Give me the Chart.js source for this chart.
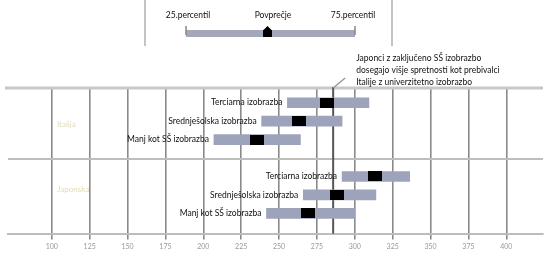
<!DOCTYPE html>
<html><head><meta charset="utf-8">
<script src="https://cdn.jsdelivr.net/npm/chart.js@4"></script>
<style>html,body{margin:0;padding:0;background:#fff}#wrap{width:549px;height:256px;position:relative}</style>
</head><body><div id="wrap"><canvas id="c" width="549" height="256"></canvas></div>
<script>
// ---- data ----
const xTickValues = [100, 125, 150, 175, 200, 225, 250, 275, 300, 325, 350, 375, 400];
const countries = ['Italija', 'Japonska'];
const educationLevels = ['Terciarna izobrazba', 'Srednješolska izobrazba', 'Manj kot SŠ izobrazba'];
const italyP25  = [255.5, 238.5, 207.0];
const italyP75  = [309.3, 291.6, 264.1];
const italyMean = [281.8, 263.4, 235.2];
const japanP25  = [291.6, 266.0, 241.7];
const japanP75  = [336.2, 313.9, 300.1];
const japanMean = [313.3, 288.3, 269.3];
const referenceValue = 285.7;
const annotationLines = ['Japonci z zaključeno SŠ izobrazbo', 'dosegajo višje spretnosti kot prebivalci', 'Italije z univerzitetno izobrazbo'];
const legendLabels = ['25.percentil', 'Povprečje', '75.percentil'];

const FONT = 'Lato, "Open Sans", sans-serif';
const p25 = [italyP25, japanP25], p75 = [italyP75, japanP75], means = [italyMean, japanMean];
const barData = [], meanData = [];
countries.forEach((c, ci) => educationLevels.forEach((lvl, li) => {
  const y = ci * 4 + li;
  barData.push({x: [p25[ci][li], p75[ci][li]], y: y, label: lvl});
  meanData.push({x: means[ci][li], y: y});
}));

const marker = document.createElement('canvas');
marker.width = 14; marker.height = 10;
const mctx = marker.getContext('2d');
mctx.fillStyle = '#000'; mctx.fillRect(0, 0, 14, 10);

const decor = {
  id: 'decor',
  beforeDraw(chart) {
    const ctx = chart.ctx;
    ctx.save();
    ctx.strokeStyle = '#c4c4c4'; ctx.lineWidth = 2;
    ctx.beginPath(); ctx.moveTo(145, 0); ctx.lineTo(145, 46); ctx.moveTo(392, 0); ctx.lineTo(392, 46); ctx.stroke();
    ctx.fillStyle = '#111'; ctx.font = '8.5px ' + FONT; ctx.textAlign = 'center'; ctx.textBaseline = 'middle';
    ctx.fillText(legendLabels[0], 188, 15);
    ctx.fillText(legendLabels[1], 273, 15);
    ctx.fillText(legendLabels[2], 353, 15);
    ctx.fillStyle = '#a3a7ba'; ctx.fillRect(186, 30, 169, 7);
    ctx.strokeStyle = '#888'; ctx.lineWidth = 1.5;
    ctx.beginPath(); ctx.moveTo(186, 26); ctx.lineTo(186, 35); ctx.moveTo(355, 26); ctx.lineTo(355, 35); ctx.stroke();
    ctx.fillStyle = '#000'; ctx.fillRect(263, 30, 9, 7);
    ctx.beginPath(); ctx.moveTo(263.5, 30); ctx.lineTo(267.5, 26); ctx.lineTo(271.5, 30); ctx.fill();
    ctx.restore();
  },
  beforeDatasetsDraw(chart) {
    const ctx = chart.ctx, a = chart.chartArea, xs = chart.scales.x, ys = chart.scales.y;
    ctx.save();
    ctx.strokeStyle = '#c8c8c8'; ctx.lineWidth = 3;
    ctx.beginPath(); ctx.moveTo(5, a.top); ctx.lineTo(a.right, a.top); ctx.stroke();
    ctx.strokeStyle = '#bdbdbd'; ctx.lineWidth = 2;
    const sy = ys.getPixelForValue(3.05);
    ctx.beginPath(); ctx.moveTo(a.left, sy); ctx.lineTo(a.right, sy); ctx.stroke();
    ctx.fillStyle = '#e4dbb8'; ctx.font = '8px ' + FONT; ctx.textAlign = 'left'; ctx.textBaseline = 'middle';
    ctx.fillText(countries[0], 57, ys.getPixelForValue(1.2));
    ctx.fillText(countries[1], 57, ys.getPixelForValue(4.7));
    const rx = xs.getPixelForValue(referenceValue);
    ctx.strokeStyle = '#555'; ctx.lineWidth = 2;
    ctx.beginPath(); ctx.moveTo(rx, a.top - 1); ctx.lineTo(rx, a.bottom); ctx.stroke();
    ctx.strokeStyle = '#999'; ctx.lineWidth = 1.5;
    ctx.beginPath(); ctx.moveTo(rx, a.top); ctx.lineTo(rx + 12, a.top - 10); ctx.stroke();
    ctx.fillStyle = '#111'; ctx.font = '8.5px ' + FONT;
    annotationLines.forEach((t, i) => ctx.fillText(t, rx + 23, a.top - 30 + i * 12));
    ctx.restore();
  },
  afterDatasetsDraw(chart) {
    const ctx = chart.ctx, xs = chart.scales.x, ys = chart.scales.y;
    ctx.save();
    ctx.fillStyle = '#111'; ctx.font = '8.5px ' + FONT; ctx.textAlign = 'right'; ctx.textBaseline = 'middle';
    barData.forEach(d => ctx.fillText(d.label, xs.getPixelForValue(d.x[0]) - 5, ys.getPixelForValue(d.y)));
    ctx.restore();
  }
};

new Chart(document.getElementById('c'), {
  type: 'bar',
  data: {
    datasets: [
      {type: 'scatter', data: meanData, pointStyle: marker, pointRadius: 5, order: 0},
      {type: 'bar', indexAxis: 'y', data: barData, backgroundColor: '#9ea3bc', barThickness: 10, order: 1}
    ]
  },
  options: {
    indexAxis: 'y',
    responsive: false,
    animation: false,
    devicePixelRatio: 1,
    layout: {padding: {left: 8, right: 3, top: 88, bottom: 2}},
    plugins: {legend: {display: false}, tooltip: {enabled: false}},
    scales: {
      x: {
        type: 'linear', min: 71.1, max: 424.2, offset: false,
        afterBuildTicks: s => { s.ticks = xTickValues.map(v => ({value: v})); },
        grid: {color: '#8a8a8a', lineWidth: 1.6, tickLength: 6, offset: false},
        border: {display: true, color: '#bdbdbd', width: 2},
        ticks: {color: '#999', font: {size: 7, family: FONT}, padding: 3, maxRotation: 0, autoSkip: false}
      },
      y: {type: 'linear', reverse: true, min: -0.8, max: 7.1, display: false, offset: false, grid: {offset: false}}
    }
  },
  plugins: [decor]
});
</script></body></html>
